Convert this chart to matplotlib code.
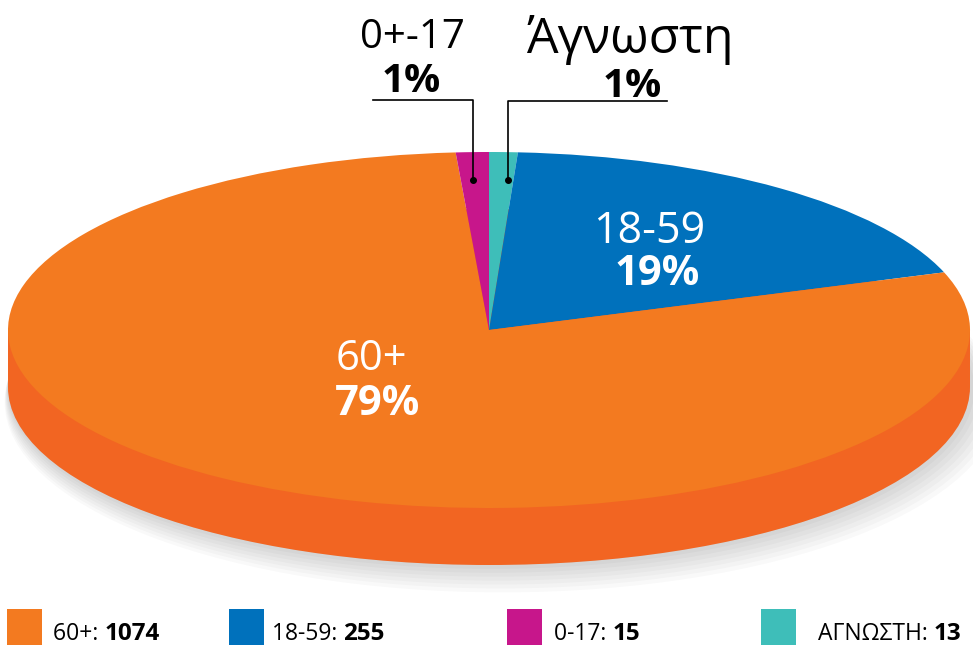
import matplotlib
matplotlib.use('Agg')
import matplotlib.pyplot as plt
from matplotlib.patches import Ellipse, Rectangle

# ── Data ────────────────────────────────────────────────────────────────────
groups   = ['60+', '18-59', '0-17', 'ΑΓΝΩΣΤΗ']
counts   = [1074, 255, 15, 13]
pct_text = ['79%', '19%', '1%', '1%']
colors   = ['#F37A20', '#0071BC', '#C7168B', '#3EBEB9']
C_SIDE   = '#F26522'

# pie is drawn clockwise from 12 o'clock: unknown, 18-59, 60+, 0-17
pie_order = [3, 1, 0, 2]

plt.rcParams['font.family'] = ['Open Sans', 'DejaVu Sans']

W, H = 973, 645
fig = plt.figure(figsize=(W / 100, H / 100), dpi=100)

# ── Pie (unit circle squashed into an ellipse by the axes limits) ───────────
cx, cy, a, b = 489, 330, 481, 178   # ellipse centre / half-axes in pixels
depth = 57 / b

ax = fig.add_axes([0, 0, 1, 1])
ax.set_axis_off()

# soft shadow under the disc
for i in range(8):
    ax.add_patch(Ellipse((0.004 * i, -depth - 0.012 * i), 2 + 0.01 * i, 2 + 0.02 * i,
                         color='black', alpha=0.025, lw=0, zorder=0))
# side wall
ax.add_patch(Ellipse((0, -depth), 2, 2, color=C_SIDE, lw=0, zorder=1))
ax.add_patch(Rectangle((-1, -depth), 2, depth, color=C_SIDE, lw=0, zorder=1))

wedges, _ = ax.pie([counts[i] for i in pie_order],
                   colors=[colors[i] for i in pie_order],
                   startangle=90, counterclock=False, radius=1, center=(0, 0),
                   wedgeprops=dict(linewidth=0))
for wdg in wedges:
    wdg.set_zorder(2)

ax.set_aspect('auto')
ax.set_xlim(-cx / a, (W - cx) / a)
ax.set_ylim((cy - H) / b, cy / b)

# ── Overlay in pixel coordinates for labels / legend ────────────────────────
ov = fig.add_axes([0, 0, 1, 1], zorder=5)
ov.set_xlim(0, W)
ov.set_ylim(H, 0)
ov.set_axis_off()

# labels inside slices
ov.text(371, 370, '60+', color='white', fontsize=30, ha='center', va='baseline')
ov.text(377, 415, pct_text[0], color='white', fontsize=30, fontweight='bold',
        ha='center', va='baseline')
ov.text(649, 243, '18-59', color='white', fontsize=31, ha='center', va='baseline')
ov.text(657, 285, pct_text[1], color='white', fontsize=30, fontweight='bold',
        ha='center', va='baseline')

# small slices with leader lines
ov.text(412, 48, '0+-17', color='black', fontsize=29, ha='center', va='baseline')
ov.text(411, 92, pct_text[2], color='black', fontsize=29, fontweight='bold',
        ha='center', va='baseline')
ov.plot([373, 473, 473], [100, 100, 180], color='black', lw=1.2)
ov.plot([473], [180], 'o', color='black', ms=4)

ov.text(630, 53, 'Άγνωστη', color='black', fontsize=36, ha='center', va='baseline')
ov.text(632, 97, pct_text[3], color='black', fontsize=29, fontweight='bold',
        ha='center', va='baseline')
ov.plot([667, 508, 508], [101, 101, 180], color='black', lw=1.2)
ov.plot([508], [180], 'o', color='black', ms=4)

# ── Legend ──────────────────────────────────────────────────────────────────
leg_box_x  = [7, 229, 507, 761]
leg_text_x = [53, 272, 554, 818]
for i, g in enumerate(groups):
    ov.add_patch(Rectangle((leg_box_x[i], 609), 35, 36, color=colors[i], lw=0))
    t = ov.text(leg_text_x[i], 640, f'{g}: ', fontsize=16.5, color='black',
                ha='left', va='baseline')
    ov.annotate(str(counts[i]), xy=(1, 0), xycoords=t, fontsize=17.5,
                fontweight='bold', color='black', ha='left', va='bottom')

fig.savefig('out.png', dpi=100)
